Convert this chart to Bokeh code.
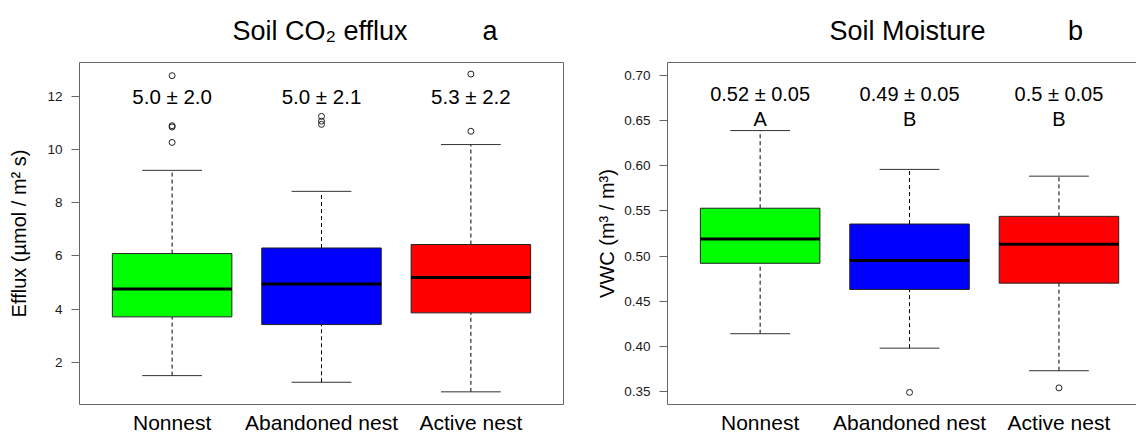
from bokeh.plotting import figure
from bokeh.layouts import row
from bokeh.models import FixedTicker, LinearAxis, Range1d, ColumnDataSource
from bokeh.core.properties import value
from bokeh.embed import file_html
from bokeh.resources import INLINE

# ---------------- data ----------------
groups = ["Nonnest", "Abandoned nest", "Active nest"]
colors = ["#00FF00", "#0000FF", "#FF0000"]

# Panel a: soil CO2 efflux (µmol / m² s)
efflux_low = [1.50, 1.25, 0.89]
efflux_q1 = [3.71, 3.42, 3.86]
efflux_med = [4.76, 4.95, 5.19]
efflux_q3 = [6.09, 6.30, 6.43]
efflux_high = [9.22, 8.43, 10.19]
efflux_out_group = [1, 1, 1, 1, 2, 2, 2, 3, 3]
efflux_out_val = [10.27, 10.85, 10.90, 12.78, 10.95, 11.07, 11.25, 10.69, 12.84]
efflux_stats = ["5.0 ± 2.0", "5.0 ± 2.1", "5.3 ± 2.2"]
efflux_ticks = [2, 4, 6, 8, 10, 12]
efflux_tick_labels = ["2", "4", "6", "8", "10", "12"]

# Panel b: soil moisture VWC (m³ / m³)
vwc_low = [0.414, 0.398, 0.373]
vwc_q1 = [0.492, 0.463, 0.470]
vwc_med = [0.519, 0.495, 0.513]
vwc_q3 = [0.553, 0.5355, 0.544]
vwc_high = [0.639, 0.596, 0.5885]
vwc_out_group = [2, 3]
vwc_out_val = [0.349, 0.354]
vwc_stats = ["0.52 ± 0.05", "0.49 ± 0.05", "0.5 ± 0.05"]
vwc_letters = ["A", "B", "B"]
vwc_ticks = [0.35, 0.40, 0.45, 0.50, 0.55, 0.60, 0.65, 0.70]
vwc_tick_labels = ["0.35", "0.40", "0.45", "0.50", "0.55", "0.60", "0.65", "0.70"]

title_a = "Soil CO₂ efflux"
title_b = "Soil Moisture"
panel_tag_a = "a"
panel_tag_b = "b"

FONT = "Liberation Sans"
FRAME = "#666666"
TXT = "#1a1a1a"
NBSP = "\u00a0"


def make_panel(width, border_left, border_right, xr, yr, low, q1, med, q3, high,
               out_g, out_v, ticks, tick_labels, ylabel, label_standoff, outline,
               title, title_offset, title_standoff):
    p = figure(width=width, height=436, output_backend="svg", toolbar_location=None,
               x_range=Range1d(*xr), y_range=Range1d(*yr),
               min_border_left=border_left, min_border_right=border_right,
               min_border_top=62, min_border_bottom=31)
    p.background_fill_color = "white"
    p.border_fill_color = "white"
    p.xgrid.visible = False
    p.ygrid.visible = False
    if outline:
        p.outline_line_color = FRAME
        p.outline_line_width = 1
    else:
        p.outline_line_color = None

    pos = list(range(1, len(groups) + 1))
    src = ColumnDataSource(dict(
        x=pos,
        left=[v - 0.4 for v in pos], right=[v + 0.4 for v in pos],
        capl=[v - 0.2 for v in pos], capr=[v + 0.2 for v in pos],
        low=low, q1=q1, med=med, q3=q3, high=high, color=colors,
    ))
    # whiskers
    p.segment(x0="x", y0="q3", x1="x", y1="high", source=src,
              line_color="black", line_width=1, line_dash="4 3")
    p.segment(x0="x", y0="low", x1="x", y1="q1", source=src,
              line_color="black", line_width=1, line_dash="4 3")
    # caps
    p.segment(x0="capl", y0="high", x1="capr", y1="high", source=src,
              line_color="#333333", line_width=1)
    p.segment(x0="capl", y0="low", x1="capr", y1="low", source=src,
              line_color="#333333", line_width=1)
    # boxes
    p.quad(left="left", right="right", bottom="q1", top="q3", source=src,
           fill_color="color", line_color="#222222", line_width=1)
    # medians
    p.segment(x0="left", y0="med", x1="right", y1="med", source=src,
              line_color="black", line_width=3)
    # outliers
    p.scatter(x=out_g, y=out_v, marker="circle", size=6,
              fill_color=None, line_color="#222222", line_width=1)

    # y axis
    ya = p.yaxis[0]
    ya.ticker = FixedTicker(ticks=ticks)
    ya.major_label_overrides = {t: l for t, l in zip(ticks, tick_labels)}
    ya.major_label_text_font = FONT
    ya.major_label_text_font_size = "13.5px"
    ya.major_label_text_color = TXT
    ya.major_tick_out = 8
    ya.major_tick_in = 0
    ya.major_tick_line_color = FRAME
    ya.minor_tick_line_color = None
    ya.major_label_standoff = 9
    ya.axis_label = ylabel
    ya.axis_label_text_font = FONT
    ya.axis_label_text_font_size = "20px"
    ya.axis_label_text_font_style = "normal"
    ya.axis_label_text_color = "black"
    ya.axis_label_standoff = label_standoff
    ya.axis_line_color = None if outline else FRAME

    # x axis
    xa = p.xaxis[0]
    xa.ticker = FixedTicker(ticks=pos)
    xa.major_label_overrides = {v: g for v, g in zip(pos, groups)}
    xa.major_label_text_font = FONT
    xa.major_label_text_font_size = "21px"
    xa.major_label_text_line_height = 1.0
    xa.major_label_text_color = "black"
    xa.major_tick_out = 0
    xa.major_tick_in = 0
    xa.minor_tick_line_color = None
    xa.major_label_standoff = 6
    xa.axis_line_color = None if outline else FRAME

    if not outline:
        top = LinearAxis(ticker=FixedTicker(ticks=[]), axis_line_color=FRAME,
                         major_tick_line_color=None, minor_tick_line_color=None,
                         major_tick_out=0, major_tick_in=0, major_label_standoff=0,
                         major_label_text_font_size="0px")
        p.add_layout(top, "above")

    p.title.text = title
    p.title.align = "left"
    p.title.vertical_align = "top"
    p.title.offset = title_offset
    p.title.standoff = title_standoff
    p.title.text_font = FONT
    p.title.text_font_size = "27px"
    p.title.text_line_height = 1.0
    p.title.text_font_style = "normal"
    p.title.text_color = "black"
    return p, pos


# ---------------- panel a ----------------
p1, pos = make_panel(572, 79, 9, (0.38, 3.62), (0.414, 13.276),
                     efflux_low, efflux_q1, efflux_med, efflux_q3, efflux_high,
                     efflux_out_group, efflux_out_val, efflux_ticks, efflux_tick_labels,
                     "Efflux (µmol / m² s)", 14, True,
                     title_a + NBSP * 10 + panel_tag_a, 153, 30)
p1.text(x=pos, y=[11.99] * 3, text=efflux_stats, text_align="center",
        text_baseline="alphabetic", text_font=value(FONT), text_font_size="20.5px",
        text_color="black")

# ---------------- panel b ----------------
p2, pos = make_panel(564, 95, 0, (0.38, 3.519), (0.3356, 0.7144),
                     vwc_low, vwc_q1, vwc_med, vwc_q3, vwc_high,
                     vwc_out_group, vwc_out_val, vwc_ticks, vwc_tick_labels,
                     "VWC (m³ / m³)", 3, False,
                     title_b + NBSP * 11 + panel_tag_b, 162, 30)
p2.text(x=pos, y=[0.680] * 3, text=vwc_stats, text_align="center",
        text_baseline="alphabetic", text_font=value(FONT), text_font_size="20px",
        text_color="black")
p2.text(x=pos, y=[0.6514] * 3, text=vwc_letters, text_align="center",
        text_baseline="alphabetic", text_font=value(FONT), text_font_size="20px",
        text_color="black")

layout = row(p1, p2)
open("out.html", "w").write(file_html(layout, INLINE))
